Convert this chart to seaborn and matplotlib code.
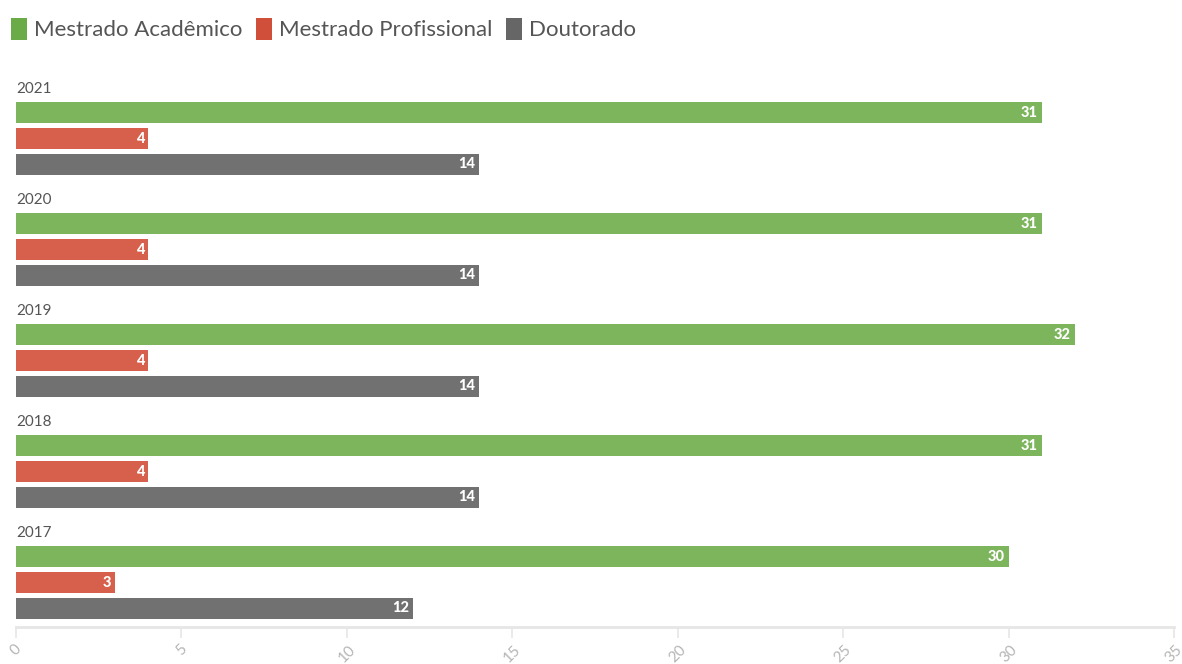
import matplotlib
matplotlib.use("Agg")
import matplotlib.pyplot as plt
import seaborn as sns
import pandas as pd
from matplotlib.patches import Patch

years = ["2021", "2020", "2019", "2018", "2017"]
mestrado_academico = [31, 31, 32, 31, 30]
mestrado_profissional = [4, 4, 4, 4, 3]
doutorado = [14, 14, 14, 14, 12]
series = ["Mestrado Acadêmico", "Mestrado Profissional", "Doutorado"]
colors = ["#7cb55b", "#d6604c", "#717171"]
legend_colors = ["#6aab48", "#cf4f3b", "#666666"]
xticks = [0, 5, 10, 15, 20, 25, 30, 35]

rows = []
for y, a, b, c in zip(years, mestrado_academico, mestrado_profissional, doutorado):
    rows.append((y, series[0], a))
    rows.append((y, series[1], b))
    rows.append((y, series[2], c))
df = pd.DataFrame(rows, columns=["ano", "tipo", "valor"])

sns.set_theme(style="white")
plt.rcParams["font.family"] = ["Lato", "DejaVu Sans"]

fig = plt.figure(figsize=(11.82, 6.64), dpi=100)
ax = fig.add_axes([16/1182, 1-627/664, (1174-16)/1182, (627-72)/664])

sns.barplot(data=df, y="ano", x="valor", hue="tipo", order=years, hue_order=series,
            palette=colors, orient="h", width=0.695, gap=0.18, ax=ax, legend=False,
            saturation=1, edgecolor="none")

for cont in ax.containers:
    for bar in cont:
        w = bar.get_width()
        ax.annotate(f"{int(w)}", (w, bar.get_y() + bar.get_height()/2),
                    xytext=(-3, 0), textcoords="offset points", ha="right", va="center",
                    color="white", fontsize=10.5, fontweight="black")

ax.set_xlim(0, 35)
ax.set_ylim(4.4, -0.6)
ax.set_yticks([])
ax.set_xticks(xticks)
ax.set_xticklabels([str(t) for t in xticks], rotation=45, ha="center", va="top",
                   color="#b5b5b5", fontsize=11)
ax.tick_params(axis="x", bottom=True, length=8, width=1.2, color="#e6e6e6", pad=3)
ax.set_xlabel("")
ax.set_ylabel("")
for s in ["top", "right", "left"]:
    ax.spines[s].set_visible(False)
ax.spines["bottom"].set_color("#e6e6e6")
ax.spines["bottom"].set_linewidth(2)

for i, y in enumerate(years):
    ax.text(0, i - 0.446, y, ha="left", va="center", color="#555555", fontsize=11)

handles = [Patch(facecolor=c, edgecolor="none") for c in legend_colors]
fig.legend(handles, series, loc="upper left", bbox_to_anchor=(-0.006, 1.0), ncol=3, frameon=False,
           fontsize=16, handlelength=0.75, handleheight=1.15, handletextpad=0.3, columnspacing=0.6,
           labelcolor="#555555", borderaxespad=0.4)

fig.savefig("out.png", dpi=100)
